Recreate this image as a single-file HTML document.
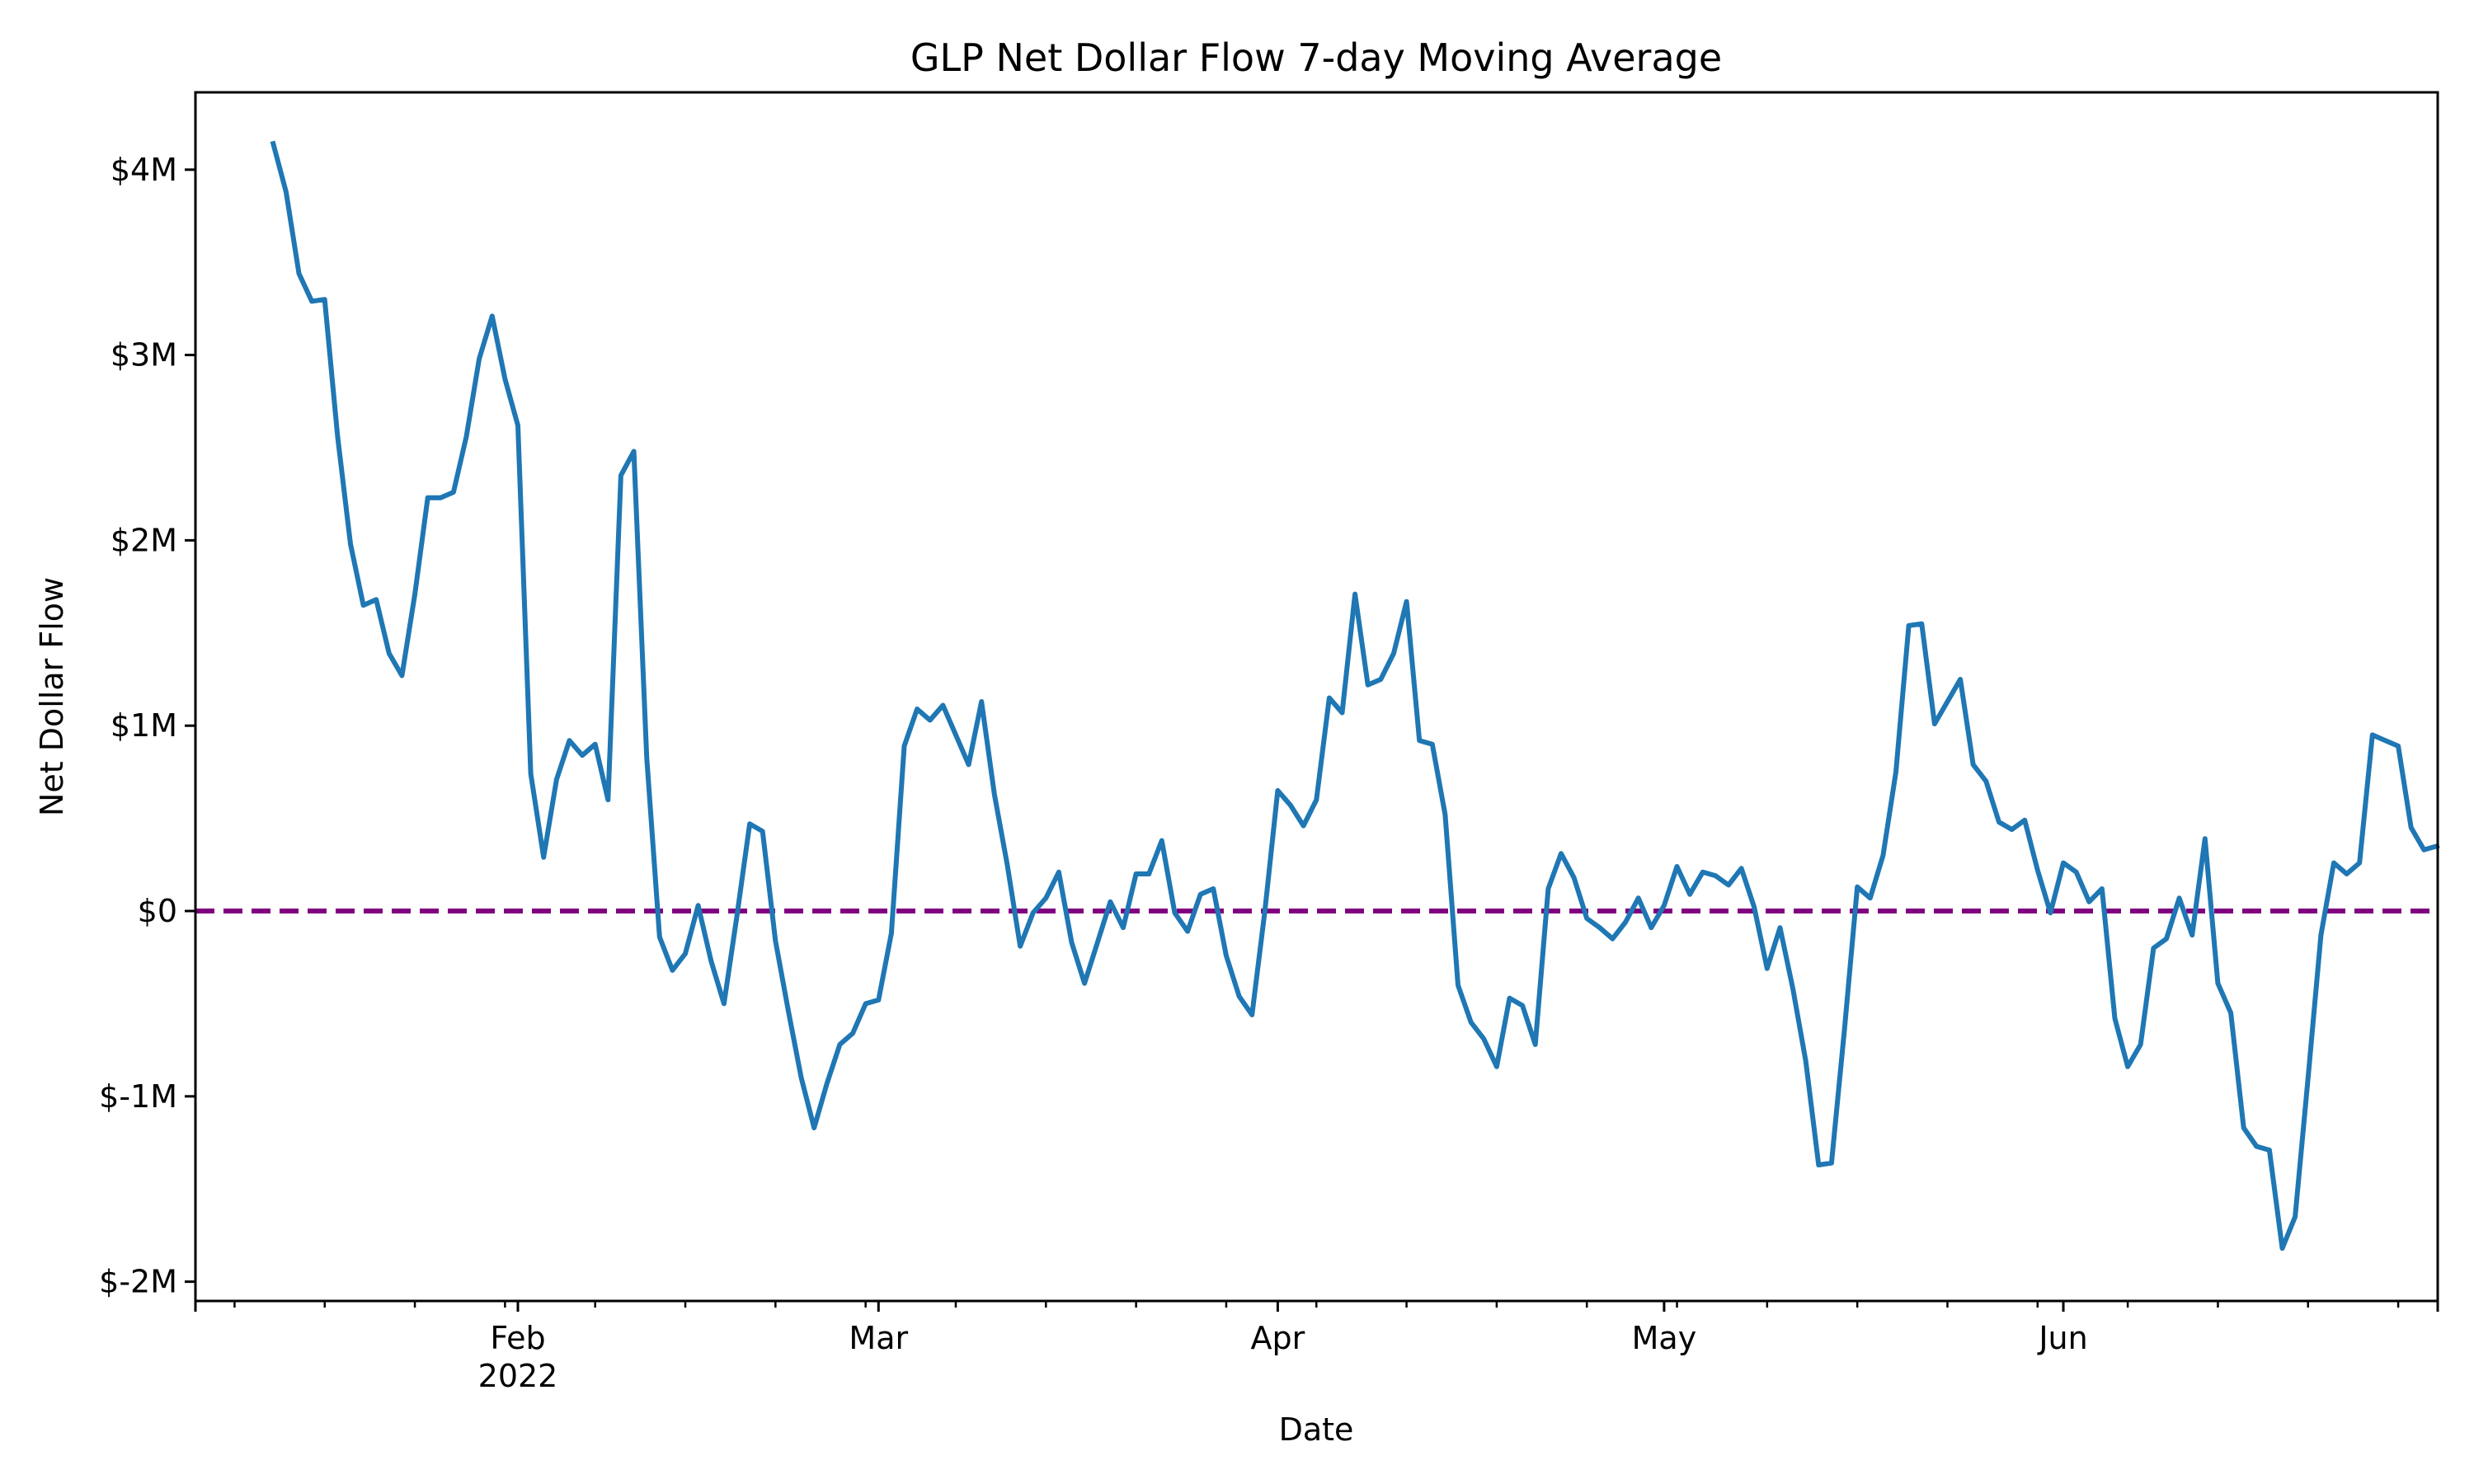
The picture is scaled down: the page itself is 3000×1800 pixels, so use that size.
<!DOCTYPE html>
<html><head><meta charset="utf-8"><style>
html,body{margin:0;padding:0;background:#fff;}
svg{display:block;font-family:"DejaVu Sans","Liberation Sans",sans-serif;}
</style></head><body>
<svg id="chart" width="3000" height="1800" viewBox="0 0 3000 1800" xmlns="http://www.w3.org/2000/svg">
<rect width="3000" height="1800" fill="#fff"/>
<text x="1596" y="86" font-size="46" text-anchor="middle">GLP Net Dollar Flow 7-day Moving Average</text>
<text x="1596" y="1747" font-size="38" text-anchor="middle">Date</text>
<text x="0" y="0" font-size="38" text-anchor="middle" transform="translate(76,845) rotate(-90)">Net Dollar Flow</text>
<g id="plot"></g>
</svg>
<script>
// data: 7-day moving average net flow, in $M, daily from 2022-01-13
const startDay = 12; // day-of-year index (Jan 1 = 0)
const flowValues = [4.14,3.88,3.44,3.29,3.30,2.56,1.98,1.65,1.68,1.39,1.27,1.71,2.23,2.23,2.26,2.56,2.98,3.21,2.87,2.62,
0.74,0.29,0.71,0.92,0.84,0.90,0.60,2.35,2.48,0.83,-0.14,-0.32,-0.23,0.03,-0.27,-0.50,-0.03,0.47,0.43,-0.16,
-0.54,-0.90,-1.17,-0.93,-0.72,-0.66,-0.50,-0.48,-0.12,0.89,1.09,1.03,1.11,0.95,0.79,1.13,0.63,0.25,-0.19,-0.01,
0.07,0.21,-0.17,-0.39,-0.17,0.05,-0.09,0.20,0.20,0.38,-0.01,-0.11,0.09,0.12,-0.24,-0.46,-0.56,0.00,0.65,0.57,
0.46,0.60,1.15,1.07,1.71,1.22,1.25,1.39,1.67,0.92,0.90,0.52,-0.40,-0.60,-0.69,-0.84,-0.47,-0.51,-0.72,0.12,
0.31,0.18,-0.04,-0.09,-0.15,-0.06,0.07,-0.09,0.03,0.24,0.09,0.21,0.19,0.14,0.23,0.02,-0.31,-0.09,-0.42,-0.81,
-1.37,-1.36,-0.64,0.13,0.07,0.30,0.75,1.54,1.55,1.01,1.13,1.25,0.79,0.70,0.48,0.44,0.49,0.22,-0.01,0.26,
0.21,0.05,0.12,-0.58,-0.84,-0.72,-0.20,-0.15,0.07,-0.13,0.39,-0.39,-0.55,-1.17,-1.27,-1.29,-1.82,-1.65,-0.90,-0.13,
0.26,0.20,0.26,0.95,0.92,0.89,0.45,0.33,0.35];
const yTickValues = [-2,-1,0,1,2,3,4];
const yTickLabels = ["$-2M","$-1M","$0","$1M","$2M","$3M","$4M"];
const monthTickDays = [31,59,90,120,151];
const monthTickLabels = ["Feb","Mar","Apr","May","Jun"];
const firstMinorDay = 9; // Jan 10 (Monday)

const L=237,R=2956,T=112,B=1578;
const xs = d => 628 + (d-31)*15.617;
const ys = v => 1105 - v*224.8;
const NS="http://www.w3.org/2000/svg";
const g=document.getElementById('plot');
function mk(tag,attrs){const e=document.createElementNS(NS,tag);for(const k in attrs)e.setAttribute(k,attrs[k]);g.appendChild(e);return e;}

// zero line
const zl=mk('line',{x1:L,x2:R,y1:ys(0),y2:ys(0),stroke:'#800080','stroke-width':6,'stroke-dasharray':'23 11'});



// series
let pts=flowValues.map((v,i)=>xs(startDay+i).toFixed(1)+','+ys(v).toFixed(1)).join(' ');
const line=mk('polyline',{points:pts,fill:'none',stroke:'#1f77b4','stroke-width':6,'stroke-linejoin':'round','stroke-linecap':'square'});



// spines
const frame=mk('rect',{x:L,y:T,width:R-L,height:B-T,fill:'none',stroke:'#000','stroke-width':3});



// y ticks
yTickValues.forEach((v,i)=>{
  const y=ys(v);
  const t=mk('line',{x1:L-13,x2:L,y1:y,y2:y,stroke:'#000','stroke-width':3});
  
  
  const tx=mk('text',{x:L-22,y:y+13,'font-size':38,'text-anchor':'end'});
  tx.textContent=yTickLabels[i];
  
  
});
// minor x ticks
for(let d=firstMinorDay; xs(d)<=R+1; d+=7){
  if(monthTickDays.includes(d)) continue;
  const x=xs(d);
  const t=mk('line',{x1:x,x2:x,y1:B,y2:B+8,stroke:'#000','stroke-width':2.5});
  
  
}
// major x ticks
monthTickDays.forEach((d,i)=>{
  const x=xs(d);
  const t=mk('line',{x1:x,x2:x,y1:B,y2:B+13,stroke:'#000','stroke-width':3});
  
  
  const tx=mk('text',{x:x,y:1636,'font-size':38,'text-anchor':'middle'});
  tx.textContent=monthTickLabels[i];
  
  
  if(i===0){
    const yr=mk('text',{x:x,y:1682,'font-size':38,'text-anchor':'middle'});
    yr.textContent='2022';
    
    
  }
});
// edge ticks at axis ends
[L,R].forEach(x=>{
  const t=mk('line',{x1:x,x2:x,y1:B,y2:B+13,stroke:'#000','stroke-width':3});
  
  
});
</script>
</body></html>
